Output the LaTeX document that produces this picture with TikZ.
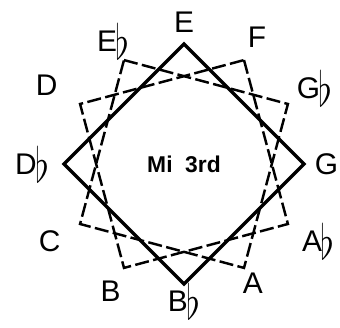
\documentclass[tikz,border=0pt]{standalone}
\usepackage{fontspec}
\usepackage{graphicx}
\setmainfont{Liberation Sans}
\usetikzlibrary{calc}
\newcommand{\fl}{\hspace{-0.05em}\raisebox{-0.26em}{\scalebox{1.2}[1.6]{$\flat$}}}
\tikzset{
    majsq/.style={draw,line width=2pt,line join=miter},
    minsq/.style={draw,line width=1.4pt,dash pattern=on 8pt off 2.5pt,line join=miter},
    notelab/.style={font=\fontsize{17}{20}\selectfont,inner sep=0pt},
    centrelab/.style={font=\bfseries\fontsize{13}{15}\selectfont,inner sep=0pt},
}
\begin{document}
\begin{tikzpicture}
    \useasboundingbox (-3.68,-3.28) rectangle (3.12,3.28);

    % twelve points of the circle, E at the top
    \foreach \i in {0,...,11}
        \coordinate (v\i) at (90-30*\i:2.4);

    % note names round the outside
    \foreach \i/\lab/\r in {0/E/2.84, 1/F/2.92, 2/G\fl/3.02, 3/G/2.85,
                            4/A\fl/3.1, 5/A/2.75, 6/B\fl/2.74, 7/B/2.94,
                            8/C/3.1, 9/D\fl/3.04, 10/D/3.17, 11/E\fl/2.83}
        \node[notelab] (n\i) at (90-30*\i:\r) {\lab};

    % the three squares
    \path[majsq] (v0) -- (v3) -- (v6) -- (v9) -- cycle;
    \path[minsq] (v11) -- (v2) -- (v5) -- (v8) -- cycle;
    \path[minsq] (v1) -- (v4) -- (v7) -- (v10) -- cycle;

    \node[centrelab] (title) at (0,0) {Mi\hspace{0.55em}3rd};
\end{tikzpicture}
\end{document}
